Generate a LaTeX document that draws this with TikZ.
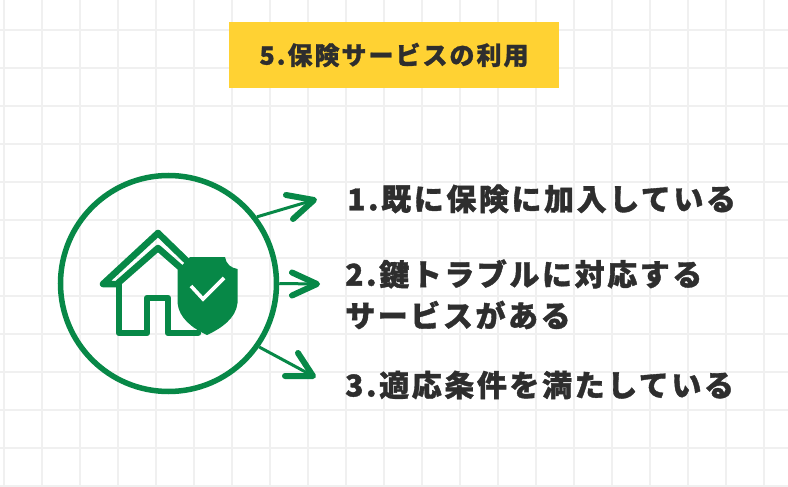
\documentclass[tikz,border=0pt]{standalone}
\usepackage{fontspec}
\usetikzlibrary{calc}
\newfontfamily\jpfont[LetterSpace=8.6,FakeBold=1.2]{Noto Sans CJK JP Black}
\newfontfamily\jptitle[LetterSpace=8,FakeBold=1]{Noto Sans CJK JP Black}
\definecolor{gr}{HTML}{078847}
\definecolor{gridc}{HTML}{F0F0F0}
\definecolor{yel}{HTML}{FFD233}
\definecolor{ink}{HTML}{2E2E2E}
\tikzset{
  gridline/.style={gridc,line width=1.2pt},
  item/.style={anchor=west,inner sep=0pt,text=ink,font=\jpfont\fontsize{30}{30}\selectfont},
  linkarrow/.style={gr,line width=3pt},
  headline/.style={gr,line width=6pt,line join=round,line cap=round},
  houseline/.style={gr,line width=6.5pt,line join=round,line cap=round},
}
\begin{document}
\begin{tikzpicture}[x=1pt,y=-1pt]
\useasboundingbox (0,0) rectangle (788,487);
\fill[white] (0,0) rectangle (788,487);
\foreach \i in {0,...,20} \draw[gridline] ({4+38*\i},0) -- ({4+38*\i},487);
\foreach \j in {0,...,12} \draw[gridline] (0,{30+38*\j}) -- (788,{30+38*\j});
\node[fill=yel,minimum width=330pt,minimum height=66pt,inner sep=0pt,text=ink,font=\jptitle\fontsize{25}{25}\selectfont] (title) at (394,55) {5.保険サービスの利用};
\node[circle,draw=gr,line width=5.5pt,minimum size=216pt,inner sep=0pt] (c) at (168.5,283.5) {};
\coordinate (t1) at (314,200);
\coordinate (t2) at (317,284);
\coordinate (t3) at (313,376);
\draw[linkarrow] (c.37) -- (t1);
\draw[linkarrow] (c.0) -- (t2);
\draw[linkarrow] (c.-35) -- (t3);
\draw[headline] ($(t1)+(-28,-5)$) -- (t1) -- ($(t1)+(-21,19)$);
\draw[headline] ($(t2)+(-25,-11.5)$) -- (t2) -- ($(t2)+(-25,11.5)$);
\draw[headline] ($(t3)+(-15,-23)$) -- (t3) -- ($(t3)+(-28,0)$);
% house
\draw[houseline] (158,233) -- (103,284) -- (117,284) -- (158,248) -- (190,276);
\draw[houseline] (158,233) -- (190,264);
\draw[houseline] (119,284) -- (119,333) -- (147,333) -- (147,298) -- (168,298) -- (168,333) -- (198,333);
% shield
\fill[gr] (190,257) -- (225,257) .. controls (226,264) and (231,268) .. (237.5,269) -- (237.5,303)
  .. controls (236,318) and (222,328) .. (207,335) .. controls (192,328) and (179,318) .. (177.5,303)
  -- (177.5,270) -- cycle;
\draw[white,line width=3.6pt] (191,286) -- (203,299) -- (224,278);
\node[item] (l1) at (347,199) {1.既に保険に加入している};
\node[item] (l2) at (345,274) {2.鍵トラブルに対応する};
\node[item] (l2b) at (345,315) {サービスがある};
\node[item] (l3) at (345,385) {3.適応条件を満たしている};
\end{tikzpicture}
\end{document}
